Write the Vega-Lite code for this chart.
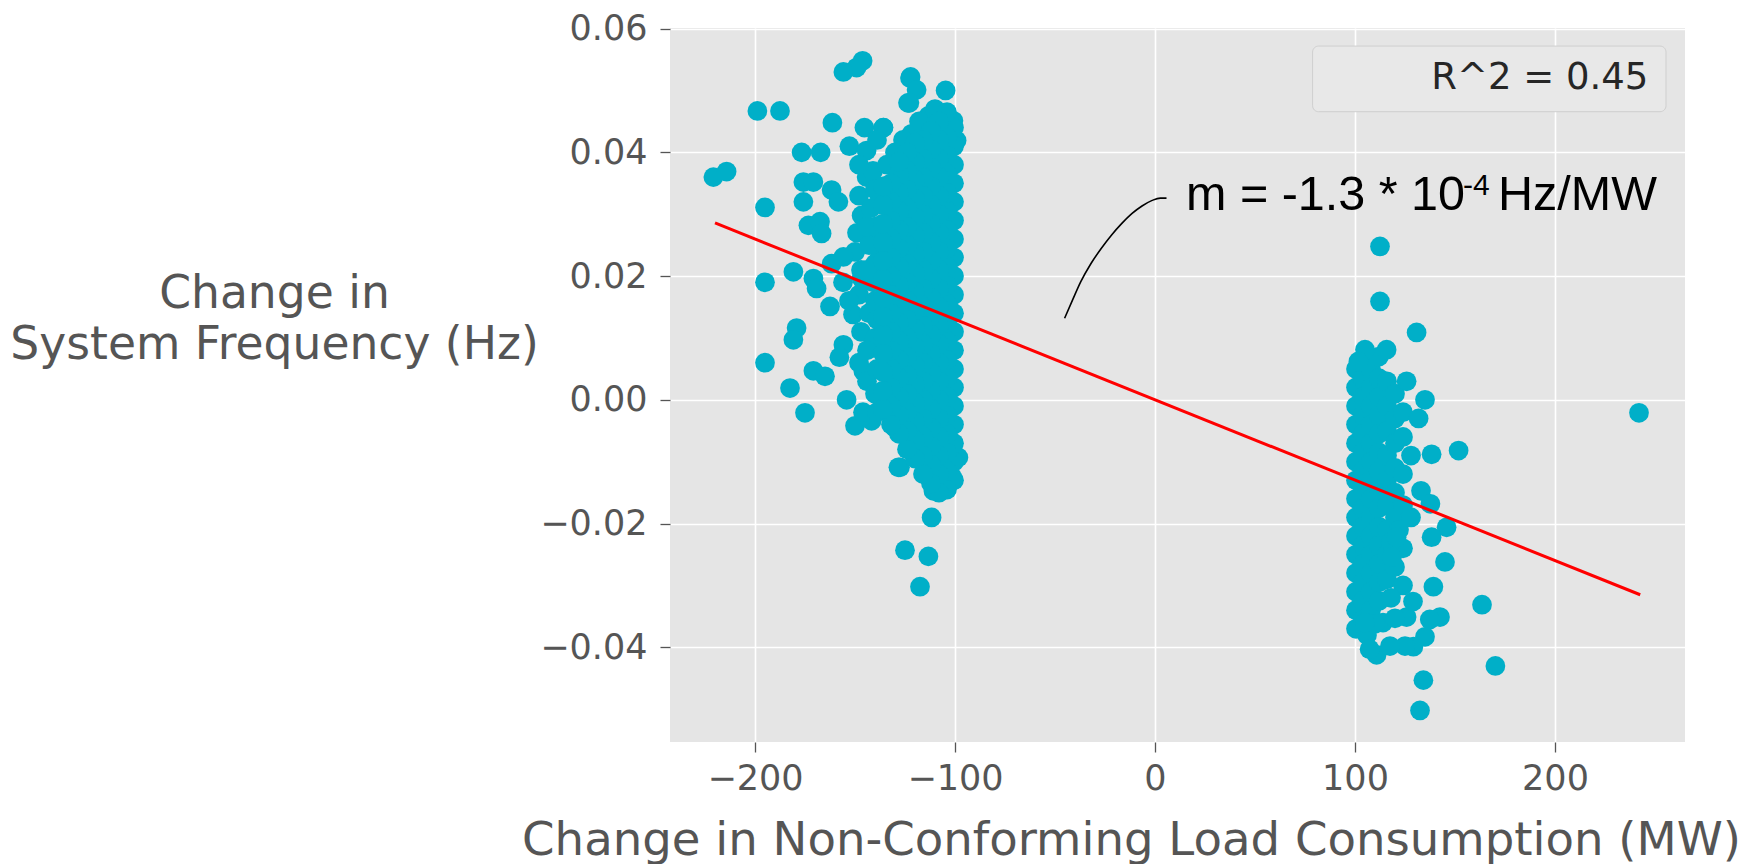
{
"$schema": "https://vega.github.io/schema/vega-lite/v6.json",
"width": 1015, "height": 714,
"autosize": {"type": "none"},
"padding": {"left": 670, "top": 28, "right": 61, "bottom": 122},
"background": "white",
"config": {
  "view": {"fill": "#E5E5E5", "stroke": null},
  "font": "DejaVu Sans",
  "axis": {"grid": true, "gridColor": "white", "gridWidth": 1.6, "domain": false, "tickColor": "#555555", "tickSize": 10, "tickWidth": 1.3,
    "labelFont": "DejaVu Sans", "labelFontSize": 35, "labelColor": "#555555",
    "titleFont": "DejaVu Sans", "titleFontSize": 45.6, "titleColor": "#555555", "titleFontWeight": "normal"}
},
"datasets": {
  "points": [
{"x":-146.2,"y":0.0548},{"x":-149.2,"y":0.0537},{"x":-155.8,"y":0.053},{"x":-198.8,"y":0.0467},{"x":-187.5,"y":0.0467},{"x":-161.3,"y":0.0448},{"x":-145.3,"y":0.044},{"x":-135.8,"y":0.044},{"x":-122.5,"y":0.052},{"x":-123.5,"y":0.048},{"x":-152.8,"y":0.041},{"x":-144.2,"y":0.0403},{"x":-176.7,"y":0.04},{"x":-167.2,"y":0.04},{"x":-220.8,"y":0.036},{"x":-214.2,"y":0.0369},{"x":-175.8,"y":0.0352},{"x":-170.8,"y":0.0352},{"x":-161.7,"y":0.0339},{"x":-158.3,"y":0.032},{"x":-175.8,"y":0.032},{"x":-144.2,"y":0.036},{"x":-195,"y":0.0311},{"x":-146.7,"y":0.0298},{"x":-173.3,"y":0.0282},{"x":-167.5,"y":0.0288},{"x":-166.7,"y":0.0269},{"x":-137.5,"y":0.0325},{"x":-139.2,"y":0.0277},{"x":-150,"y":0.0239},{"x":-155.8,"y":0.0231},{"x":-161.7,"y":0.022},{"x":-180.8,"y":0.0207},{"x":-195,"y":0.019},{"x":-170.8,"y":0.0196},{"x":-169.2,"y":0.018},{"x":-162.5,"y":0.0151},{"x":-146.7,"y":0.0196},{"x":-179.2,"y":0.0116},{"x":-137.5,"y":0.0234},{"x":-151,"y":0.0138},{"x":-180.8,"y":0.0097},{"x":-195,"y":0.006},{"x":-155.8,"y":0.0089},{"x":-157.8,"y":0.0069},{"x":-170.8,"y":0.0047},{"x":-165,"y":0.0038},{"x":-182.5,"y":0.0019},{"x":-175,"y":-0.0021},{"x":-154.2,"y":0},{"x":-150,"y":-0.0042},{"x":-141.7,"y":-0.0034},{"x":-145.8,"y":0.0046},{"x":-129.2,"y":-0.004},{"x":-127.5,"y":-0.0109},{"x":-125,"y":-0.0243},{"x":-122.2,"y":0.0522},{"x":-119.2,"y":0.0501},{"x":-122.8,"y":0.048},{"x":-104.7,"y":0.05},{"x":-135.8,"y":0.044},{"x":-113.3,"y":0.0459},{"x":-100.8,"y":0.0451},{"x":-121.7,"y":0.043},{"x":-99.2,"y":0.0419},{"x":-110.8,"y":-0.0147},{"x":-104.2,"y":-0.0136},{"x":-101.7,"y":-0.0123},{"x":-128.3,"y":-0.0109},{"x":-120.8,"y":-0.0083},{"x":-130,"y":-0.0045},{"x":-111.7,"y":-0.019},{"x":-113.3,"y":-0.0253},{"x":-117.5,"y":-0.0302},{"x":-98.3,"y":-0.0093},
{"x":-148,"y":0.033},{"x":-142,"y":0.031},{"x":-149,"y":0.027},{"x":-143,"y":0.025},{"x":-147,"y":0.021},{"x":-141,"y":0.019},{"x":-148,"y":0.017},{"x":-143,"y":0.014},{"x":-147,"y":0.011},{"x":-141,"y":0.009},{"x":-148,"y":0.006},{"x":-144,"y":0.003},{"x":-140,"y":0.001},{"x":-146,"y":-0.002},{"x":-141,"y":0.037},{"x":-148,"y":0.038},{"x":-139,"y":0.042},{"x":-156,"y":0.019},{"x":-153,"y":0.016},{"x":-139,"y":0.013},{"x":-139,"y":0.005},{"x":-139,"y":-0.002},
{"x":-140,"y":0.034},{"x":-140,"y":0.028},{"x":-140,"y":0.022},{"x":-140,"y":0.016},{"x":-140,"y":0.01},{"x":-144,"y":0.028},{"x":-144,"y":0.021},{"x":-144,"y":0.008},{"x":-134,"y":0.038},{"x":-130,"y":0.04},{"x":-126,"y":0.042},{"x":-118,"y":0.045},{"x":-110,"y":0.047},
{"x":-100.5,"y":-0.013},{"x":-100.5,"y":-0.01},{"x":-100.5,"y":-0.007},{"x":-100.5,"y":-0.004},{"x":-100.5,"y":-0.001},{"x":-100.5,"y":0.002},{"x":-100.5,"y":0.005},{"x":-100.5,"y":0.008},{"x":-100.5,"y":0.011},{"x":-100.5,"y":0.014},{"x":-100.5,"y":0.017},{"x":-100.5,"y":0.02},{"x":-100.5,"y":0.023},{"x":-100.5,"y":0.026},{"x":-100.5,"y":0.029},{"x":-100.5,"y":0.032},{"x":-100.5,"y":0.035},{"x":-100.5,"y":0.038},{"x":-100.5,"y":0.041},{"x":-100.5,"y":0.044},
{"x":-104,"y":-0.0145},{"x":-104,"y":-0.0115},{"x":-104,"y":-0.0085},{"x":-104,"y":-0.0055},{"x":-104,"y":-0.0025},{"x":-104,"y":0.0005},{"x":-104,"y":0.0035},{"x":-104,"y":0.0065},{"x":-104,"y":0.0095},{"x":-104,"y":0.0125},{"x":-104,"y":0.0155},{"x":-104,"y":0.0185},{"x":-104,"y":0.0215},{"x":-104,"y":0.0245},{"x":-104,"y":0.0275},{"x":-104,"y":0.0305},{"x":-104,"y":0.0335},{"x":-104,"y":0.0365},{"x":-104,"y":0.0395},{"x":-104,"y":0.0425},{"x":-104,"y":0.0465},
{"x":-108,"y":-0.015},{"x":-108,"y":-0.012},{"x":-108,"y":-0.009},{"x":-108,"y":-0.006},{"x":-108,"y":-0.003},{"x":-108,"y":0},{"x":-108,"y":0.003},{"x":-108,"y":0.006},{"x":-108,"y":0.009},{"x":-108,"y":0.012},{"x":-108,"y":0.015},{"x":-108,"y":0.018},{"x":-108,"y":0.021},{"x":-108,"y":0.024},{"x":-108,"y":0.027},{"x":-108,"y":0.03},{"x":-108,"y":0.033},{"x":-108,"y":0.036},{"x":-108,"y":0.039},{"x":-108,"y":0.042},{"x":-108,"y":0.045},
{"x":-112,"y":-0.0135},{"x":-112,"y":-0.0105},{"x":-112,"y":-0.0075},{"x":-112,"y":-0.0045},{"x":-112,"y":-0.0015},{"x":-112,"y":0.0015},{"x":-112,"y":0.0045},{"x":-112,"y":0.0075},{"x":-112,"y":0.0105},{"x":-112,"y":0.0135},{"x":-112,"y":0.0165},{"x":-112,"y":0.0195},{"x":-112,"y":0.0225},{"x":-112,"y":0.0255},{"x":-112,"y":0.0285},{"x":-112,"y":0.0315},{"x":-112,"y":0.0345},{"x":-112,"y":0.0375},{"x":-112,"y":0.0405},{"x":-112,"y":0.0435},
{"x":-116,"y":-0.012},{"x":-116,"y":-0.009},{"x":-116,"y":-0.006},{"x":-116,"y":-0.003},{"x":-116,"y":0},{"x":-116,"y":0.003},{"x":-116,"y":0.006},{"x":-116,"y":0.009},{"x":-116,"y":0.012},{"x":-116,"y":0.015},{"x":-116,"y":0.018},{"x":-116,"y":0.021},{"x":-116,"y":0.024},{"x":-116,"y":0.027},{"x":-116,"y":0.03},{"x":-116,"y":0.033},{"x":-116,"y":0.036},{"x":-116,"y":0.039},{"x":-116,"y":0.042},
{"x":-120,"y":-0.0095},{"x":-120,"y":-0.0065},{"x":-120,"y":-0.0035},{"x":-120,"y":-0.0005},{"x":-120,"y":0.0025},{"x":-120,"y":0.0055},{"x":-120,"y":0.0085},{"x":-120,"y":0.0115},{"x":-120,"y":0.0145},{"x":-120,"y":0.0175},{"x":-120,"y":0.0205},{"x":-120,"y":0.0235},{"x":-120,"y":0.0265},{"x":-120,"y":0.0295},{"x":-120,"y":0.0325},{"x":-120,"y":0.0355},{"x":-120,"y":0.0385},{"x":-120,"y":0.0415},
{"x":-124,"y":-0.008},{"x":-124,"y":-0.005},{"x":-124,"y":-0.002},{"x":-124,"y":0.001},{"x":-124,"y":0.004},{"x":-124,"y":0.007},{"x":-124,"y":0.01},{"x":-124,"y":0.013},{"x":-124,"y":0.016},{"x":-124,"y":0.019},{"x":-124,"y":0.022},{"x":-124,"y":0.025},{"x":-124,"y":0.028},{"x":-124,"y":0.031},{"x":-124,"y":0.034},{"x":-124,"y":0.037},{"x":-124,"y":0.04},
{"x":-128,"y":-0.0055},{"x":-128,"y":-0.0025},{"x":-128,"y":0.0005},{"x":-128,"y":0.0035},{"x":-128,"y":0.0065},{"x":-128,"y":0.0095},{"x":-128,"y":0.0125},{"x":-128,"y":0.0155},{"x":-128,"y":0.0185},{"x":-128,"y":0.0215},{"x":-128,"y":0.0245},{"x":-128,"y":0.0275},{"x":-128,"y":0.0305},{"x":-128,"y":0.0335},{"x":-128,"y":0.0365},{"x":-128,"y":0.0385},
{"x":-132,"y":-0.004},{"x":-132,"y":-0.001},{"x":-132,"y":0.002},{"x":-132,"y":0.005},{"x":-132,"y":0.008},{"x":-132,"y":0.011},{"x":-132,"y":0.014},{"x":-132,"y":0.017},{"x":-132,"y":0.02},{"x":-132,"y":0.023},{"x":-132,"y":0.026},{"x":-132,"y":0.029},{"x":-132,"y":0.032},{"x":-132,"y":0.035},
{"x":-136,"y":-0.0015},{"x":-136,"y":0.0015},{"x":-136,"y":0.0045},{"x":-136,"y":0.0075},{"x":-136,"y":0.0105},{"x":-136,"y":0.0135},{"x":-136,"y":0.0165},{"x":-136,"y":0.0195},{"x":-136,"y":0.0225},{"x":-136,"y":0.0255},{"x":-136,"y":0.0285},{"x":-136,"y":0.0315},{"x":-136,"y":0.0345},
{"x":100.5,"y":-0.037},{"x":100.5,"y":-0.034},{"x":100.5,"y":-0.031},{"x":100.5,"y":-0.028},{"x":100.5,"y":-0.025},{"x":100.5,"y":-0.022},{"x":100.5,"y":-0.019},{"x":100.5,"y":-0.016},{"x":100.5,"y":-0.013},{"x":100.5,"y":-0.01},{"x":100.5,"y":-0.007},{"x":100.5,"y":-0.004},{"x":100.5,"y":-0.001},{"x":100.5,"y":0.002},{"x":100.5,"y":0.005},
{"x":104,"y":-0.0355},{"x":104,"y":-0.0325},{"x":104,"y":-0.0295},{"x":104,"y":-0.0265},{"x":104,"y":-0.0235},{"x":104,"y":-0.0205},{"x":104,"y":-0.0175},{"x":104,"y":-0.0145},{"x":104,"y":-0.0115},{"x":104,"y":-0.0085},{"x":104,"y":-0.0055},{"x":104,"y":-0.0025},{"x":104,"y":0.0005},{"x":104,"y":0.0035},{"x":104,"y":0.0065},
{"x":108,"y":-0.034},{"x":108,"y":-0.031},{"x":108,"y":-0.028},{"x":108,"y":-0.025},{"x":108,"y":-0.022},{"x":108,"y":-0.019},{"x":108,"y":-0.016},{"x":108,"y":-0.013},{"x":108,"y":-0.01},{"x":108,"y":-0.007},{"x":108,"y":-0.004},{"x":108,"y":-0.001},{"x":108,"y":0.002},{"x":108,"y":0.005},
{"x":112,"y":-0.0325},{"x":112,"y":-0.0295},{"x":112,"y":-0.0265},{"x":112,"y":-0.0235},{"x":112,"y":-0.0205},{"x":112,"y":-0.0175},{"x":112,"y":-0.0145},{"x":112,"y":-0.0115},{"x":112,"y":-0.0085},{"x":112,"y":-0.0055},{"x":112,"y":-0.0025},{"x":112,"y":0.0005},{"x":112,"y":0.0035},{"x":112,"y":0.007},
{"x":116,"y":-0.029},{"x":116,"y":-0.025},{"x":116,"y":-0.021},{"x":116,"y":-0.017},{"x":116,"y":-0.013},{"x":116,"y":-0.009},{"x":116,"y":-0.005},{"x":116,"y":-0.001},{"x":116,"y":0.003},
{"x":120,"y":-0.027},{"x":120,"y":-0.019},{"x":120,"y":-0.015},{"x":120,"y":-0.011},{"x":120,"y":-0.007},{"x":120,"y":-0.003},{"x":120,"y":0.001},
{"x":124,"y":-0.03},{"x":124,"y":-0.024},{"x":124,"y":-0.017},{"x":124,"y":-0.012},{"x":124,"y":-0.006},{"x":124,"y":-0.002},
{"x":118,"y":-0.023},{"x":118,"y":-0.032},{"x":114,"y":-0.036},{"x":122,"y":-0.021},{"x":106,"y":-0.038},
{"x":145.8,"y":-0.0206},{"x":138.3,"y":-0.0222},{"x":145,"y":-0.0262},{"x":139.2,"y":-0.0302},{"x":142.5,"y":-0.0351},{"x":135,"y":-0.0383},{"x":110.8,"y":-0.0412},{"x":129.2,"y":-0.0399},{"x":134.2,"y":-0.0453},{"x":132.5,"y":-0.0502},{"x":120.8,"y":-0.0222},{"x":125.8,"y":-0.0351},{"x":112.5,"y":0.0248},{"x":112.5,"y":0.0159},{"x":130.8,"y":0.0109},{"x":105,"y":0.0081},{"x":115.8,"y":0.0081},{"x":101.7,"y":0.0062},{"x":125.8,"y":0.003},{"x":135,"y":0},{"x":138.3,"y":-0.0088},{"x":131.8,"y":-0.003},{"x":133,"y":-0.0147},{"x":137.7,"y":-0.0168},{"x":129,"y":-0.0326},{"x":120,"y":-0.0353},{"x":137.4,"y":-0.0355},{"x":110,"y":-0.0362},{"x":125,"y":-0.0398},{"x":117.5,"y":-0.0398},{"x":105,"y":-0.036},{"x":107.3,"y":-0.0403},{"x":118.5,"y":-0.0254},{"x":128,"y":-0.009},{"x":128,"y":-0.019},
{"x":242,"y":-0.0021},{"x":163.5,"y":-0.0331},{"x":170.2,"y":-0.043},{"x":151.8,"y":-0.0082}
  ],
  "fit": [{"x":-220,"y":0.0286},{"x":242.6,"y":-0.0315}],
  "arrow": [{"x":-45.2,"y":0.01319},{"x":-41.2,"y":0.01615},{"x":-37.1,"y":0.0191},{"x":-32.0,"y":0.02204},{"x":-26.9,"y":0.02446},{"x":-21.8,"y":0.02661},{"x":-16.7,"y":0.02848},{"x":-11.6,"y":0.03009},{"x":-6.5,"y":0.03133},{"x":-1.4,"y":0.03224},{"x":2.7,"y":0.03261},{"x":5.75,"y":0.03261}]
},
"layer": [
  {"data": {"name": "points"},
   "mark": {"type": "circle", "size": 390, "opacity": 1, "color": "#00AFC8"},
   "encoding": {
     "x": {"field": "x", "type": "quantitative", "scale": {"domain": [-242.5, 265], "nice": false, "zero": false},
       "axis": {"values": [-200, -100, 0, 100, 200], "format": "d", "title": "Change in Non-Conforming Load Consumption (MW)",
         "titleX": 461, "titleY": 112, "titleAlign": "center", "titleBaseline": "alphabetic", "titleFontSize": 46.6, "labelPadding": 9}},
     "y": {"field": "y", "type": "quantitative", "scale": {"domain": [-0.0553, 0.0601], "nice": false, "zero": false},
       "axis": {"values": [-0.04, -0.02, 0, 0.02, 0.04, 0.06], "format": ".2f", "title": ["Change in", "System Frequency (Hz)"],
         "titleAngle": 0, "titleX": -396, "titleY": 279, "titleAlign": "center", "titleBaseline": "alphabetic", "titleLineHeight": 51, "labelPadding": 13}}
   }},
  {"data": {"name": "fit"},
   "mark": {"type": "line", "color": "#FF0000", "strokeWidth": 3},
   "encoding": {"x": {"field": "x", "type": "quantitative"}, "y": {"field": "y", "type": "quantitative"}}},
  {"data": {"name": "arrow"},
   "mark": {"type": "line", "color": "black", "strokeWidth": 1.6, "interpolate": "monotone"},
   "encoding": {"x": {"field": "x", "type": "quantitative"}, "y": {"field": "y", "type": "quantitative"}}},
  {"data": {"values": [{"label": "m = -1.3 * 10"}]},
   "mark": {"type": "text", "align": "left", "baseline": "alphabetic", "font": "Liberation Sans", "fontSize": 48.5, "color": "black"},
   "encoding": {"x": {"datum": 15.5}, "y": {"datum": 0.03064}, "text": {"field": "label"}}},
  {"data": {"values": [{"label": "-4"}]},
   "mark": {"type": "text", "align": "left", "baseline": "alphabetic", "font": "Liberation Sans", "fontSize": 30, "color": "black"},
   "encoding": {"x": {"datum": 154}, "y": {"datum": 0.03305}, "text": {"field": "label"}}},
  {"data": {"values": [{"label": "Hz/MW"}]},
   "mark": {"type": "text", "align": "left", "baseline": "alphabetic", "font": "Liberation Sans", "fontSize": 48.5, "color": "black"},
   "encoding": {"x": {"datum": 171.5}, "y": {"datum": 0.03064}, "text": {"field": "label"}}},
  {"data": {"values": [{}]},
   "mark": {"type": "rect", "fill": "#E8E8E8", "stroke": "#CFCFCF", "strokeWidth": 1, "cornerRadius": 6},
   "encoding": {"x": {"datum": 78.8}, "x2": {"datum": 255.5}, "y": {"datum": 0.05718}, "y2": {"datum": 0.04657}}},
  {"data": {"values": [{"label": "R^2 = 0.45"}]},
   "mark": {"type": "text", "align": "right", "baseline": "alphabetic", "font": "DejaVu Sans", "fontSize": 37, "color": "#262626"},
   "encoding": {"x": {"datum": 246.7}, "y": {"datum": 0.05031}, "text": {"field": "label"}}}
]
}
